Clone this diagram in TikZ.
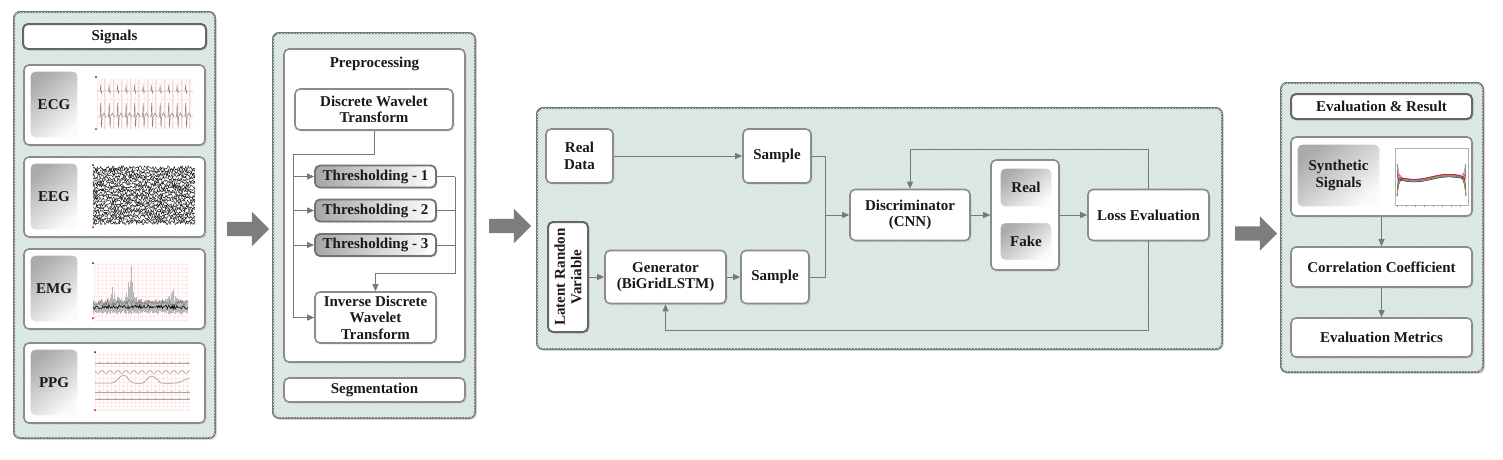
\documentclass[tikz,border=0pt]{standalone}
\usepackage{fontspec}
\setmainfont{Liberation Serif}
\usetikzlibrary{arrows.meta,shadows,patterns,shapes.arrows}
\definecolor{panelfill}{RGB}{212,226,224}
\definecolor{panelline}{RGB}{112,120,120}
\definecolor{boxline}{RGB}{140,140,140}
\definecolor{connc}{RGB}{120,120,120}
\definecolor{bigarrowc}{RGB}{125,125,125}
\tikzset{
  txt/.style={font=\fontsize{15}{16.5}\selectfont\bfseries, align=center, text=black!90},
  panel/.style={draw=panelline, line width=2pt, rounded corners=6pt, fill=panelfill,
    drop shadow={shadow xshift=2pt, shadow yshift=-2pt, opacity=.2},
    postaction={pattern=north east lines, pattern color=white!55!panelfill}},
  wbox/.style={txt, draw=boxline, line width=1.6pt, rounded corners=5pt, fill=white, inner sep=1pt,
    drop shadow={shadow xshift=1.5pt, shadow yshift=-1.5pt, opacity=.2}},
  tbox/.style={wbox, draw=black!60, line width=2pt},
  gbox/.style={txt, draw=white, line width=1.2pt, rounded corners=5pt, top color=black!33, bottom color=black!2,
    shading angle=40, inner sep=1pt},
  thbox/.style={txt, draw=black!55, line width=1.8pt, rounded corners=5pt, left color=black!35, right color=white,
    inner sep=1pt, drop shadow={shadow xshift=1.5pt, shadow yshift=-1.5pt, opacity=.2}},
  conn/.style={draw=connc, line width=1pt},
  arr/.style={conn, -{Triangle[width=6pt,length=7pt]}},
  bigarr/.style={fill=bigarrowc, draw=none, single arrow, inner sep=7pt, single arrow head extend=10pt, minimum height=42pt},
  sig/.style={line width=.5pt},
  pgrid/.style={red!9, line width=.3pt}
}
\begin{document}
\begin{tikzpicture}[x=1pt,y=-1pt]
\useasboundingbox (0,0) rectangle (1503,459);
\pgfmathsetseed{7}

% ---------------- Panel 1: Signals
\node[panel, minimum width=201pt, minimum height=426pt] (p1) at (114.5,225) {};
\node[tbox, minimum width=183pt, minimum height=25pt] (sigt) at (114.5,36.5) {Signals};
\node[wbox, minimum width=181pt, minimum height=80pt] (ecg) at (114.5,105) {};
\node[wbox, minimum width=181pt, minimum height=80pt] (eeg) at (114.5,197) {};
\node[wbox, minimum width=181pt, minimum height=80pt] (emg) at (114.5,289) {};
\node[wbox, minimum width=181pt, minimum height=80pt] (ppg) at (114.5,383) {};
\node[gbox, minimum width=48pt, minimum height=67pt] (ecgl) at (54,104.5) {ECG};
\node[gbox, minimum width=48pt, minimum height=67pt] (eegl) at (54,196.5) {EEG};
\node[gbox, minimum width=48pt, minimum height=67pt] (emgl) at (54,288.5) {EMG};
\node[gbox, minimum width=48pt, minimum height=67pt] (ppgl) at (54,382.5) {PPG};

% ECG plot
\foreach \xx in {97,101.25,...,193} \draw[pgrid] (\xx,79) -- ++(0,50);
\foreach \i in {0,...,10} \draw[red!18, line width=.4pt] ({104.25+\i*8.5},79) -- ++(0,50);
\foreach \yy in {83,91,99,107,115,123} \draw[pgrid] (97,\yy) -- (193,\yy);
\draw[black!50, line width=.45pt] (97,91) \foreach \i in {0,...,10} { -- ({100+\i*8.5},91) -- ({100.6+\i*8.5},86) -- ({101.3+\i*8.5},93) -- ({102+\i*8.5},91) } -- (193,91);
\draw[black!50, line width=.45pt] (97,117) \foreach \i in {0,...,10} { -- ({100+\i*8.5},117) -- ({100.7+\i*8.5},103) -- ({101.5+\i*8.5},127) -- ({102.3+\i*8.5},116) -- ({104+\i*8.5},113) -- ({106+\i*8.5},117) } -- (193,117);
\fill[blue!80!black] (96,77) circle (1pt);
\fill[red!80!black] (96,129) circle (1pt);

% EEG plot
\foreach \k in {0,...,21} {
  \draw[black!90, line width=.45pt] plot[domain=93:195, samples=120, variable=\t] (\t, {168+\k*2.6+2.2*rand});
}
\fill[blue!80!black] (93,165) circle (1pt);
\fill[red!80!black] (93,227) circle (1pt);

% EMG plot
\foreach \yy in {264,268,...,320} \draw[pgrid] (94,\yy) -- (188,\yy);
\foreach \xx in {94,98,...,188} \draw[pgrid] (\xx,262) -- (\xx,320);
\foreach \x in {93,93.7,...,188} {
  \pgfmathsetmacro\da{(\x-130)/2}
  \pgfmathsetmacro\db{(\x-112)/3}
  \pgfmathsetmacro\dc{(\x-172)/3}
  \pgfmathsetmacro\hh{(6+40/(1+\da*\da)+14/(1+\db*\db)+12/(1+\dc*\dc))*(0.35+0.65*rnd)}
  \draw[black!28, line width=.5pt] (\x,{311+3*rnd}) -- (\x,{306-\hh});
}
\draw[black!55, line width=.4pt] plot[domain=93:188, samples=120, variable=\t] (\t,{303+3*rand});
\draw[black, line width=.55pt] plot[domain=93:188, samples=120, variable=\t] (\t,{307+2*rand});
\fill[blue!80!black] (93,263) circle (1pt);
\fill[red!80!black] (93,318) circle (1pt);

% PPG plot
\foreach \yy in {354,358,...,410} \draw[pgrid] (95,\yy) -- (190,\yy);
\foreach \xx in {95,99,...,190} \draw[pgrid] (\xx,352) -- (\xx,410);
\foreach \yy in {363,392,399} {
  \draw[black!35, line width=.4pt] (95,\yy) -- (190,\yy);
  \foreach \xx in {99,107,...,187} \draw[black!35, line width=.4pt] (\xx,\yy-1.2) -- (\xx,\yy+1.2);
}
\draw[black!40, line width=.45pt] plot[domain=95:190, samples=110, variable=\t] (\t,{372+1.4*sin(45*\t)});
\draw[black!40, line width=.6pt] plot[smooth] coordinates {(95,383) (112,383) (117,380) (121,376) (126,376) (130,381) (134,383) (143,383) (148,378) (152,376) (157,379) (161,383) (176,383) (182,381) (190,378)};
\fill[blue!80!black] (95,352) circle (1pt);
\fill[red!80!black] (95,410) circle (1pt);

% big arrow 1
\node[bigarr] (ba1) at (244.5,229) {};

% ---------------- Panel 2: Preprocessing
\node[panel, minimum width=202pt, minimum height=385pt] (p2) at (374,225.5) {};
\node[wbox, minimum width=181pt, minimum height=313pt] (pre) at (374.5,205.5) {};
\node[txt] (pret) at (374.5,64) {Preprocessing};
\node[wbox, minimum width=158pt, minimum height=41pt] (dwt) at (374,109.5) {Discrete Wavelet\\Transform};
\node[thbox, minimum width=121pt, minimum height=22pt] (t1) at (375.5,176.5) {Thresholding - 1};
\node[thbox, minimum width=121pt, minimum height=22pt] (t2) at (375.5,210.5) {Thresholding - 2};
\node[thbox, minimum width=121pt, minimum height=22pt] (t3) at (375.5,245) {Thresholding - 3};
\node[wbox, minimum width=121pt, minimum height=51pt] (idwt) at (375.5,317.5) {Inverse Discrete\\Wavelet\\Transform};
\node[wbox, minimum width=181pt, minimum height=24pt] (seg) at (374.5,390) {Segmentation};
\coordinate (ltop) at (293,154);
\coordinate (rtop) at (455,176.5);
\coordinate (rbot) at (455,273);
\draw[conn] (dwt.south) |- (ltop) -- (ltop |- idwt.west);
\foreach \n in {t1,t2,t3,idwt} \draw[arr] (ltop |- \n.west) -- (\n.west);
\foreach \n in {t1,t2,t3} \draw[conn] (\n.east) -- (rtop |- \n.east);
\draw[arr] (rtop) -- (rbot) -| (idwt.north);

% big arrow 2
\node[bigarr] (ba2) at (506.5,226) {};

% ---------------- Panel 3: GAN
\node[panel, minimum width=685pt, minimum height=241pt] (p3) at (879.5,228.5) {};
\node[wbox, minimum width=67pt, minimum height=54pt] (real) at (579.5,156) {Real\\Data};
\node[wbox, minimum width=68pt, minimum height=54pt] (s1) at (777,156) {Sample};
\node[wbox, draw=black!60, line width=2pt, minimum width=40pt, minimum height=110pt] (lat) at (568,277) {};
\node[txt, rotate=90] (latt) at (lat.center) {Latent Randon\\Variable};
\node[wbox, minimum width=121pt, minimum height=53pt] (gen) at (665.5,277) {Generator\\(BiGridLSTM)};
\node[wbox, minimum width=68pt, minimum height=53pt] (s2) at (775,277) {Sample};
\node[wbox, minimum width=120pt, minimum height=51pt] (disc) at (910,215) {Discriminator\\(CNN)};
\node[wbox, minimum width=68pt, minimum height=110pt] (rf) at (1025,215) {};
\node[gbox, minimum width=52pt, minimum height=39pt] (rl) at (1026,187.5) {Real};
\node[gbox, minimum width=52pt, minimum height=38pt] (fk) at (1026,241.5) {Fake};
\node[wbox, minimum width=121pt, minimum height=51pt] (loss) at (1148.5,215) {Loss Evaluation};
\coordinate (mx) at (825,215);
\draw[arr] (real.east) -- (s1.west);
\draw[arr] (lat.east) -- (gen.west);
\draw[arr] (gen.east) -- (s2.west);
\draw[conn] (s1.east) -| (mx);
\draw[conn] (s2.east) -| (mx);
\draw[arr] (mx) -- (disc.west);
\draw[arr] (disc.east) -- (rf.west);
\draw[arr] (rf.east) -- (loss.west);
\draw[arr] (loss.north) -- ++(0,-39) -| (disc.north);
\draw[arr] (loss.south) -- ++(0,89) -| (gen.south);

% big arrow 3
\node[bigarr] (ba3) at (1252.5,233.5) {};

% ---------------- Panel 4: Evaluation
\node[panel, minimum width=202pt, minimum height=289pt] (p4) at (1382,227.5) {};
\node[tbox, minimum width=181pt, minimum height=25pt] (evt) at (1381.5,106.5) {Evaluation \& Result};
\node[wbox, minimum width=181pt, minimum height=79pt] (syn) at (1381.5,176.5) {};
\node[gbox, minimum width=83pt, minimum height=63pt] (synl) at (1338.5,175.5) {Synthetic\\Signals};
\node[wbox, minimum width=181pt, minimum height=40pt] (corr) at (1381.5,267) {Correlation Coefficient};
\node[wbox, minimum width=181pt, minimum height=39pt] (em) at (1381.5,337.5) {Evaluation Metrics};
\draw[arr] (syn.south) -- (corr.north);
\draw[arr] (corr.south) -- (em.north);

% synthetic plot
\draw[black!30, line width=.4pt] (1395,148) rectangle (1468,205);
\foreach \xx in {1397,1406,...,1466} \draw[black!40, line width=.3pt] (\xx,205) -- (\xx,207);
\foreach \c in {red!70!black, orange, olive, teal, blue!60, violet, brown, green!50!black, magenta!70, cyan!60!black, yellow!70!black, purple} {
  \pgfmathsetmacro\aa{16+10*rnd}
  \pgfmathsetmacro\pp{360*rnd}
  \pgfmathsetmacro\bb{1.5*rand}
  \draw[\c, line width=.5pt] plot[domain=0:1, samples=110, variable=\t]
    ({1397+69*\t},{178+\bb+2.5*sin(360*\t)+\aa*exp(-45*\t)*cos(1800*\t+\pp)+\aa*exp(-45*(1-\t))*cos(1800*(1-\t)+\pp)});
}
\end{tikzpicture}
\end{document}
